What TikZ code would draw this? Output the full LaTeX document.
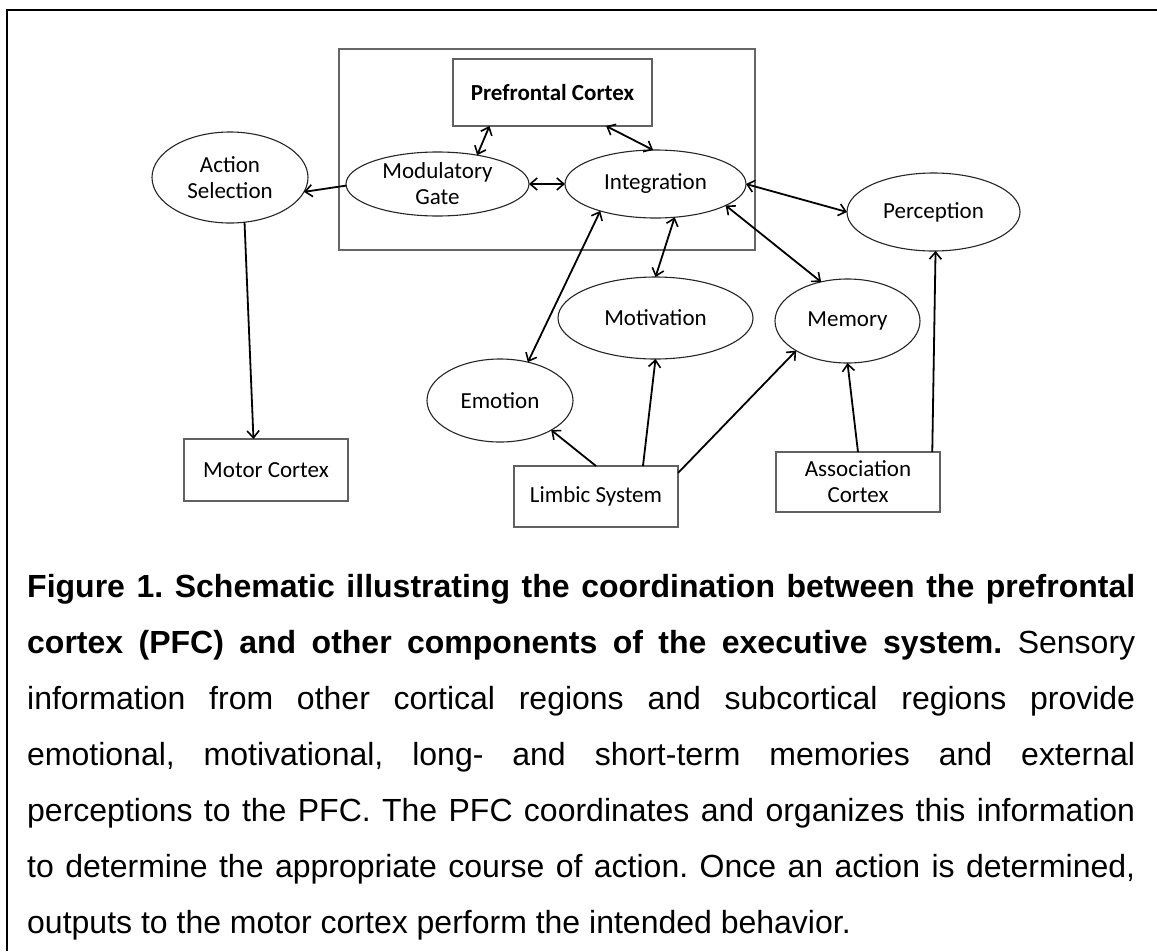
\documentclass[tikz,border=0pt]{standalone}
\usepackage{fontspec}
\newfontfamily\diafont{Carlito}
\newfontfamily\capfont{Liberation Sans}
\usetikzlibrary{shapes.geometric,arrows.meta}
\begin{document}
\frenchspacing
\begin{tikzpicture}[x=1pt,y=-1pt,
  ell/.style={ellipse,draw=black!85,line width=1.1pt,inner sep=0pt,outer sep=0pt},
  box/.style={rectangle,draw=black!62,line width=1.8pt,inner sep=0pt,outer sep=0pt},
  lbl/.style={font=\diafont\fontsize{23}{26}\selectfont,align=center,inner sep=0pt},
  lblb/.style={font=\diafont\bfseries\fontsize{23}{26}\selectfont,align=center,inner sep=0pt},
  con/.style={line width=1.8pt,draw=black},
  onearrow/.style={con,-{Straight Barb[length=7pt,width=12pt,line width=1.6pt]}},
  twoarrow/.style={con,{Straight Barb[length=7pt,width=12pt,line width=1.6pt]}-{Straight Barb[length=7pt,width=12pt,line width=1.6pt]}},
  capline/.style={anchor=base west,inner sep=0pt,font=\capfont\fontsize{32}{38}\selectfont}
]
\useasboundingbox[fill=white] (0,0) rectangle (1157,951);
% page frame (top and left rules)
\coordinate (fbl) at (7,951);
\coordinate (ftl) at (7,10);
\coordinate (ftr) at (1157,10);
\draw[line width=2pt] (fbl) -- (ftl) -- (ftr);

% PFC enclosure
\node[box,draw=black!60,line width=2.4pt,minimum width=416,minimum height=201] (pfcout) at (547,149.5) {};
\node[box,minimum width=199,minimum height=67,label={[lblb]center:Prefrontal Cortex}] (pfc) at (552.5,92.5) {};
\node[ell,minimum width=183,minimum height=64,label={[lbl]center:Modulatory\\Gate}] (mod) at (437.5,184) {};
\node[ell,minimum width=181,minimum height=68,label={[lbl]center:Integration}] (int) at (655.5,184) {};

% other components
\node[ell,minimum width=156,minimum height=91,label={[lbl]center:Action\\Selection}] (act) at (230,177.5) {};
\node[ell,minimum width=173,minimum height=78,label={[lbl]center:Perception}] (per) at (933.5,212) {};
\node[ell,minimum width=145,minimum height=84,label={[lbl]center:Memory}] (mem) at (847.5,321) {};
\node[ell,minimum width=195,minimum height=82,label={[lbl]center:Motivation}] (mot) at (655.5,318) {};
\node[ell,minimum width=146,minimum height=83,label={[lbl]center:Emotion}] (emo) at (500,400.5) {};
\node[box,minimum width=164,minimum height=62,label={[lbl]center:Motor Cortex}] (motor) at (266,470) {};
\node[box,minimum width=164,minimum height=61,label={[lbl]center:Limbic System}] (lim) at (596,496.5) {};
\node[box,minimum width=164,minimum height=60,label={[lbl]center:Association\\Cortex}] (asc) at (858,482) {};

% connectors
\draw[onearrow] (mod.181) -- (act.349);
\draw[twoarrow] (pfc.208.5) -- (mod.36);
\draw[twoarrow] (pfc.328) -- (int.94);
\draw[twoarrow] (mod.east) -- (int.west);
\draw[twoarrow] (int.east) -- (per.west);
\draw[twoarrow] (int.343.6) -- (mem.124.7);
\draw[twoarrow] (int.300.2) -- (mot.north);
\draw[twoarrow] (int.206.4) -- (emo.54.8);
\draw[onearrow] (lim.north) -- (emo.330.4);
\draw[onearrow] (lim.33.5) -- (mot.south);
\draw[onearrow] (lim.16) -- (mem.210.7);
\draw[onearrow] (asc.north) -- (mem.south);
\draw[onearrow] (asc.22.9) -- (per.273.3);
\draw[onearrow] (act.288.2) -- (motor.112.8);

% caption
\node[capline] (c1) at (27,597) {\makebox[1108pt][s]{\bfseries Figure 1. Schematic illustrating the coordination between the prefrontal}};
\node[capline] (c2) at (27,653) {\makebox[1108pt][s]{{\bfseries cortex (PFC) and other components of the executive system.} Sensory}};
\node[capline] (c3) at (27,709) {\makebox[1108pt][s]{information from other cortical regions and subcortical regions provide}};
\node[capline] (c4) at (27,765) {\makebox[1108pt][s]{emotional, motivational, long- and short-term memories and external}};
\node[capline] (c5) at (27,821) {\makebox[1108pt][s]{perceptions to the PFC. The PFC coordinates and organizes this information}};
\node[capline] (c6) at (27,877) {\makebox[1108pt][s]{to determine the appropriate course of action. Once an action is determined,}};
\node[capline] (c7) at (27,933) {outputs to the motor cortex perform the intended behavior.};
\end{tikzpicture}
\end{document}
